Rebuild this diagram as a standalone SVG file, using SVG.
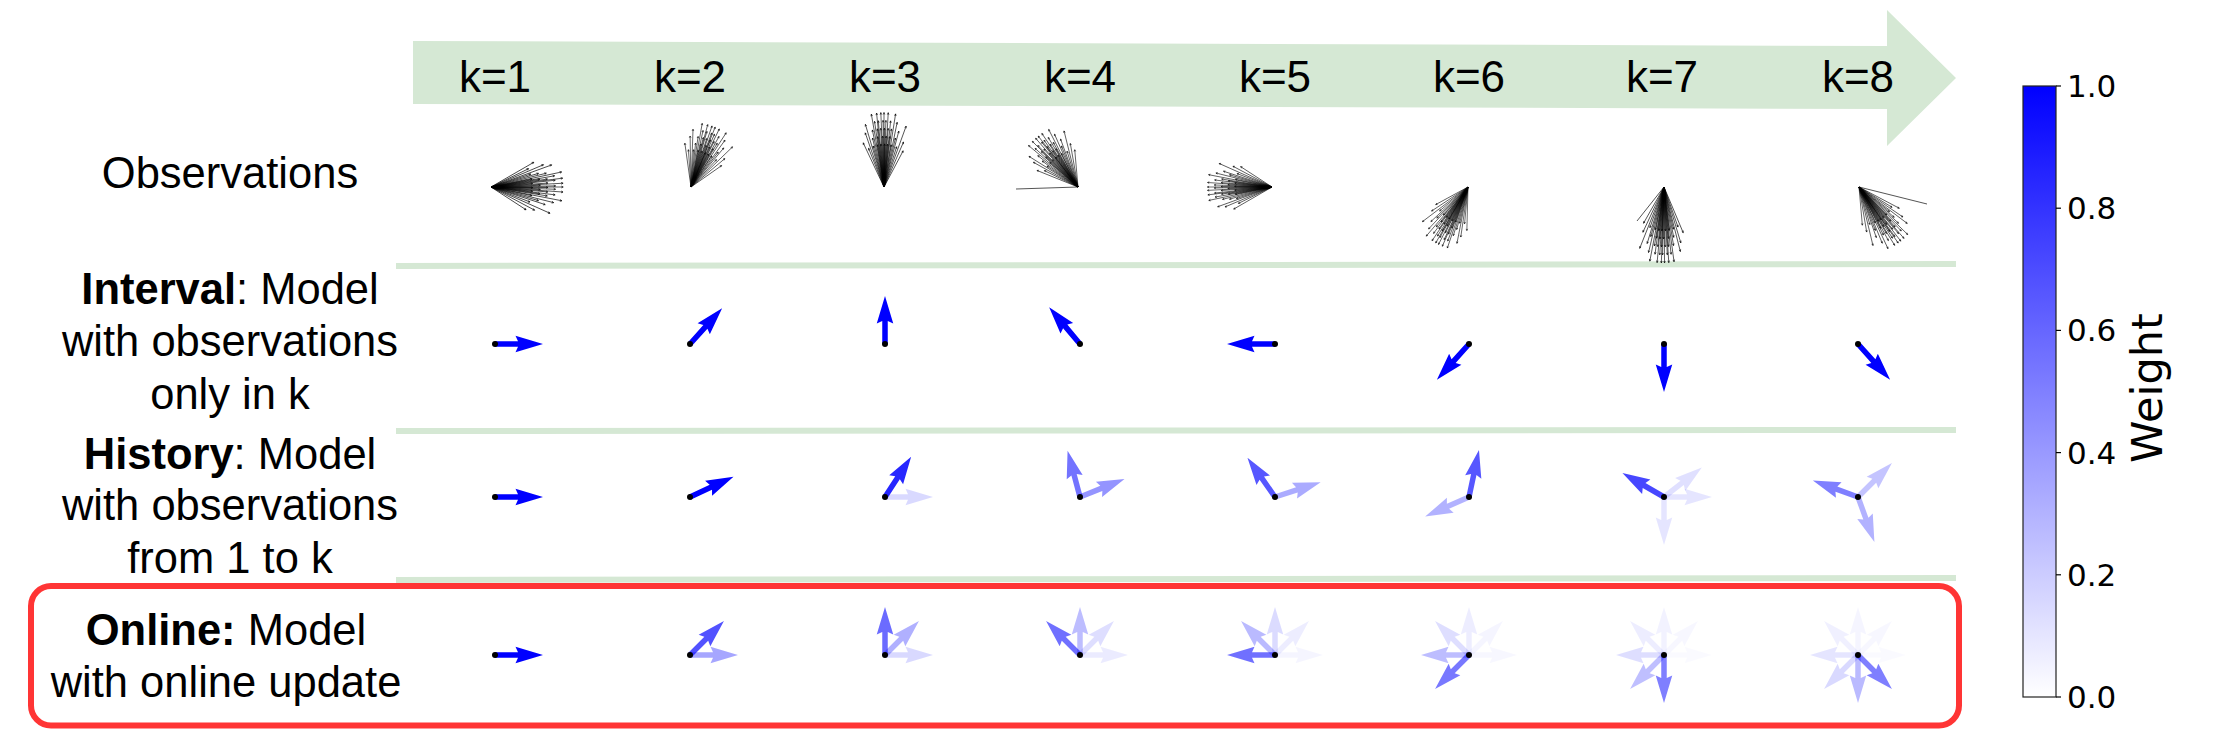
<svg xmlns="http://www.w3.org/2000/svg" xmlns:xlink="http://www.w3.org/1999/xlink" width="2213" height="754" viewBox="0 0 2213 754">
<style>
.lbl{font-family:"Liberation Sans",Arial,sans-serif;font-size:43.5px;fill:#000;text-anchor:middle}
.kl{font-family:"Liberation Sans",Arial,sans-serif;font-size:44px;fill:#000;text-anchor:middle}
.tick{font-family:"DejaVu Sans",sans-serif;font-size:31px;fill:#000}
.ray{stroke:#000;stroke-width:0.9;fill:none;stroke-opacity:.75}
.sep{stroke:#d5e8d4;stroke-width:6}
.dot{fill:#000}
</style>
<defs>
<path id="ar" d="M0 -2.75L23 -2.75L20.5 -8.25L48 0L20.5 8.25L23 2.75L0 2.75Z" fill="#0000ff"/>
<path id="re" class="ray" d="M0 0H44M42 -1L44 0L42 1"/>
<path id="ra" class="ray" d="M0 0H52M50 -1L52 0L50 1"/>
<path id="rb" class="ray" d="M0 0H60M58 -1L60 0L58 1"/>
<path id="rc" class="ray" d="M0 0H68M66 -1L68 0L66 1"/>
<path id="rd" class="ray" d="M0 0H76M74 -1L76 0L74 1"/>
<g id="fan">
<use href="#ra" transform="rotate(-30)"/><use href="#re" transform="rotate(-26)"/><use href="#rb" transform="rotate(-23)"/>
<use href="#rc" transform="rotate(-20)"/><use href="#re" transform="rotate(-18)"/><use href="#ra" transform="rotate(-16)"/>
<use href="#rb" transform="rotate(-14)"/><use href="#rd" transform="rotate(-12)"/><use href="#re" transform="rotate(-11)"/>
<use href="#rc" transform="rotate(-10)"/><use href="#ra" transform="rotate(-9)"/><use href="#rb" transform="rotate(-8)"/>
<use href="#rd" transform="rotate(-7)"/><use href="#rc" transform="rotate(-6)"/><use href="#re" transform="rotate(-5)"/>
<use href="#rb" transform="rotate(-4)"/><use href="#rd" transform="rotate(-3)"/><use href="#ra" transform="rotate(-2)"/>
<use href="#rc" transform="rotate(-1)"/><use href="#rd"/><use href="#rb" transform="rotate(0.5)"/>
<use href="#re" transform="rotate(1)"/><use href="#rc" transform="rotate(2)"/><use href="#ra" transform="rotate(3)"/>
<use href="#rd" transform="rotate(4)"/><use href="#rb" transform="rotate(5)"/><use href="#re" transform="rotate(6)"/>
<use href="#rc" transform="rotate(7)"/><use href="#ra" transform="rotate(8)"/><use href="#rb" transform="rotate(9)"/>
<use href="#rd" transform="rotate(11)"/><use href="#re" transform="rotate(12)"/><use href="#rc" transform="rotate(14)"/>
<use href="#ra" transform="rotate(16)"/><use href="#rb" transform="rotate(18)"/><use href="#re" transform="rotate(21)"/>
<use href="#rc" transform="rotate(24)"/><use href="#ra" transform="rotate(28)"/><use href="#re" transform="rotate(33)"/>
</g>
<linearGradient id="cbg" x1="0" y1="1" x2="0" y2="0">
<stop offset="0" stop-color="#ffffff"/>
<stop offset="1" stop-color="#0000ff"/>
</linearGradient>
</defs>

<rect width="2213" height="754" fill="#fff"/>

<g id="timeline">
<polygon points="413,41 1887,46 1887,10 1956,78 1887,146 1887,109 413,104" fill="#d5e8d4"/>
<text class="kl" x="495" y="92">k=1</text>
<text class="kl" x="690" y="92">k=2</text>
<text class="kl" x="885" y="92">k=3</text>
<text class="kl" x="1080" y="92">k=4</text>
<text class="kl" x="1275" y="92">k=5</text>
<text class="kl" x="1469" y="92">k=6</text>
<text class="kl" x="1662" y="92">k=7</text>
<text class="kl" x="1858" y="92">k=8</text>
</g>

<g id="separators">
<line class="sep" x1="396" y1="266" x2="1956" y2="264"/>
<line class="sep" x1="396" y1="431" x2="1956" y2="430"/>
<line class="sep" x1="396" y1="580" x2="1956" y2="578"/>
</g>

<g id="connectors"></g>

<g id="label-observations">
<text class="lbl" x="230" y="188">Observations</text>
</g>
<g id="label-interval">
<text class="lbl" x="230" y="304"><tspan font-weight="bold">Interval</tspan>: Model</text>
<text class="lbl" x="230" y="356">with observations</text>
<text class="lbl" x="230" y="409">only in k</text>
</g>
<g id="label-history">
<text class="lbl" x="230" y="469"><tspan font-weight="bold">History</tspan>: Model</text>
<text class="lbl" x="230" y="520">with observations</text>
<text class="lbl" x="230" y="573">from 1 to k</text>
</g>
<g id="label-online">
<rect x="31" y="586" width="1928" height="139.5" rx="20" fill="none" stroke="#ff3535" stroke-width="6"/>
<text class="lbl" x="226" y="645"><tspan font-weight="bold">Online:</tspan> Model</text>
<text class="lbl" x="226" y="697">with online update</text>
</g>

<g id="row-observations">
<use href="#fan" transform="translate(491,187) scale(0.95)"/>
<use href="#fan" transform="translate(691,187) rotate(-68) scale(0.85)"/>
<use href="#fan" transform="translate(884,187) rotate(-90) scale(0.98,0.8)"/>
<use href="#fan" transform="translate(1078,187) rotate(-128) scale(0.85)"/>
<line class="ray" x1="1078" y1="187" x2="1016" y2="189"/>
<use href="#fan" transform="translate(1272,187) rotate(-180) scale(0.85)"/>
<use href="#fan" transform="translate(1468,187) rotate(-240) scale(0.85,0.8)"/>
<use href="#fan" transform="translate(1664,187) rotate(-268) scale(1.0,0.8)"/>
<line class="ray" x1="1664" y1="187" x2="1637" y2="221"/>
<use href="#fan" transform="translate(1859,187) rotate(-305) scale(0.9,0.8)"/>
<line class="ray" x1="1859" y1="187" x2="1927" y2="204"/>
</g>

<g id="row-interval">
<use href="#ar" transform="translate(495,344)"/>
<use href="#ar" transform="translate(690,344) rotate(-48)"/>
<use href="#ar" transform="translate(885,344) rotate(-90)"/>
<use href="#ar" transform="translate(1080,344) rotate(-130)"/>
<use href="#ar" transform="translate(1275,344) rotate(180)"/>
<use href="#ar" transform="translate(1469,344) rotate(132)"/>
<use href="#ar" transform="translate(1664,344) rotate(90)"/>
<use href="#ar" transform="translate(1858,344) rotate(48)"/>
<circle class="dot" cx="495" cy="344" r="3"/><circle class="dot" cx="690" cy="344" r="3"/>
<circle class="dot" cx="885" cy="344" r="3"/><circle class="dot" cx="1080" cy="344" r="3"/>
<circle class="dot" cx="1275" cy="344" r="3"/><circle class="dot" cx="1469" cy="344" r="3"/>
<circle class="dot" cx="1664" cy="344" r="3"/><circle class="dot" cx="1858" cy="344" r="3"/>
</g>

<g id="row-history">
<use href="#ar" transform="translate(495,497)"/>
<use href="#ar" transform="translate(690,497) rotate(-25)"/>
<use href="#ar" transform="translate(885,497)" opacity=".15"/>
<use href="#ar" transform="translate(885,497) rotate(-57)" opacity=".85"/>
<use href="#ar" transform="translate(1080,497) rotate(-22)" opacity=".42"/>
<use href="#ar" transform="translate(1080,497) rotate(-105)" opacity=".55"/>
<use href="#ar" transform="translate(1275,497) rotate(-18)" opacity=".33"/>
<use href="#ar" transform="translate(1275,497) rotate(-125)" opacity=".66"/>
<use href="#ar" transform="translate(1469,497) rotate(156)" opacity=".3"/>
<use href="#ar" transform="translate(1469,497) rotate(-78)" opacity=".66"/>
<use href="#ar" transform="translate(1664,497) rotate(-38)" opacity=".12"/>
<use href="#ar" transform="translate(1664,497)" opacity=".1"/>
<use href="#ar" transform="translate(1664,497) rotate(90)" opacity=".1"/>
<use href="#ar" transform="translate(1664,497) rotate(-150)" opacity=".72"/>
<use href="#ar" transform="translate(1858,497) rotate(-45)" opacity=".23"/>
<use href="#ar" transform="translate(1858,497) rotate(70)" opacity=".3"/>
<use href="#ar" transform="translate(1858,497) rotate(-160)" opacity=".5"/>
<circle class="dot" cx="495" cy="497" r="3"/><circle class="dot" cx="690" cy="497" r="3"/>
<circle class="dot" cx="885" cy="497" r="3"/><circle class="dot" cx="1080" cy="497" r="3"/>
<circle class="dot" cx="1275" cy="497" r="3"/><circle class="dot" cx="1469" cy="497" r="3"/>
<circle class="dot" cx="1664" cy="497" r="3"/><circle class="dot" cx="1858" cy="497" r="3"/>
</g>

<g id="row-online">
<use href="#ar" transform="translate(495,655)"/>
<use href="#ar" transform="translate(690,655)" opacity=".35"/>
<use href="#ar" transform="translate(690,655) rotate(-45)" opacity=".68"/>
<use href="#ar" transform="translate(885,655)" opacity=".15"/>
<use href="#ar" transform="translate(885,655) rotate(-45)" opacity=".31"/>
<use href="#ar" transform="translate(885,655) rotate(-90)" opacity=".58"/>
<use href="#ar" transform="translate(1080,655)" opacity=".08"/>
<use href="#ar" transform="translate(1080,655) rotate(-45)" opacity=".13"/>
<use href="#ar" transform="translate(1080,655) rotate(-90)" opacity=".26"/>
<use href="#ar" transform="translate(1080,655) rotate(-135)" opacity=".56"/>
<use href="#ar" transform="translate(1275,655)" opacity=".04"/>
<use href="#ar" transform="translate(1275,655) rotate(-45)" opacity=".07"/>
<use href="#ar" transform="translate(1275,655) rotate(-90)" opacity=".14"/>
<use href="#ar" transform="translate(1275,655) rotate(-135)" opacity=".27"/>
<use href="#ar" transform="translate(1275,655) rotate(180)" opacity=".56"/>
<use href="#ar" transform="translate(1469,655)" opacity=".03"/>
<use href="#ar" transform="translate(1469,655) rotate(-45)" opacity=".04"/>
<use href="#ar" transform="translate(1469,655) rotate(-90)" opacity=".07"/>
<use href="#ar" transform="translate(1469,655) rotate(-135)" opacity=".13"/>
<use href="#ar" transform="translate(1469,655) rotate(180)" opacity=".26"/>
<use href="#ar" transform="translate(1469,655) rotate(135)" opacity=".53"/>
<use href="#ar" transform="translate(1664,655)" opacity=".02"/>
<use href="#ar" transform="translate(1664,655) rotate(-45)" opacity=".03"/>
<use href="#ar" transform="translate(1664,655) rotate(-90)" opacity=".05"/>
<use href="#ar" transform="translate(1664,655) rotate(-135)" opacity=".07"/>
<use href="#ar" transform="translate(1664,655) rotate(180)" opacity=".13"/>
<use href="#ar" transform="translate(1664,655) rotate(135)" opacity=".25"/>
<use href="#ar" transform="translate(1664,655) rotate(90)" opacity=".5"/>
<use href="#ar" transform="translate(1858,655)" opacity=".02"/>
<use href="#ar" transform="translate(1858,655) rotate(-45)" opacity=".03"/>
<use href="#ar" transform="translate(1858,655) rotate(-90)" opacity=".04"/>
<use href="#ar" transform="translate(1858,655) rotate(-135)" opacity=".06"/>
<use href="#ar" transform="translate(1858,655) rotate(180)" opacity=".1"/>
<use href="#ar" transform="translate(1858,655) rotate(135)" opacity=".15"/>
<use href="#ar" transform="translate(1858,655) rotate(90)" opacity=".27"/>
<use href="#ar" transform="translate(1858,655) rotate(45)" opacity=".5"/>
<circle class="dot" cx="495" cy="655" r="3"/><circle class="dot" cx="690" cy="655" r="3"/>
<circle class="dot" cx="885" cy="655" r="3"/><circle class="dot" cx="1080" cy="655" r="3"/>
<circle class="dot" cx="1275" cy="655" r="3"/><circle class="dot" cx="1469" cy="655" r="3"/>
<circle class="dot" cx="1664" cy="655" r="3"/><circle class="dot" cx="1858" cy="655" r="3"/>
</g>

<g id="colorbar">
<rect x="2023" y="86" width="33" height="611" fill="url(#cbg)" stroke="#222" stroke-width="1.2"/>
<g stroke="#000" stroke-width="1.2">
<line x1="2056" y1="86" x2="2061" y2="86"/>
<line x1="2056" y1="208.2" x2="2061" y2="208.2"/>
<line x1="2056" y1="330.4" x2="2061" y2="330.4"/>
<line x1="2056" y1="452.6" x2="2061" y2="452.6"/>
<line x1="2056" y1="574.8" x2="2061" y2="574.8"/>
<line x1="2056" y1="697" x2="2061" y2="697"/>
</g>
<text class="tick" x="2067" y="97">1.0</text>
<text class="tick" x="2067" y="219">0.8</text>
<text class="tick" x="2067" y="341">0.6</text>
<text class="tick" x="2067" y="464">0.4</text>
<text class="tick" x="2067" y="586">0.2</text>
<text class="tick" x="2067" y="708">0.0</text>
<text font-family="DejaVu Sans, sans-serif" font-size="43" fill="#000" text-anchor="middle" transform="translate(2162,388) rotate(-90)">Weight</text>
</g>
</svg>
